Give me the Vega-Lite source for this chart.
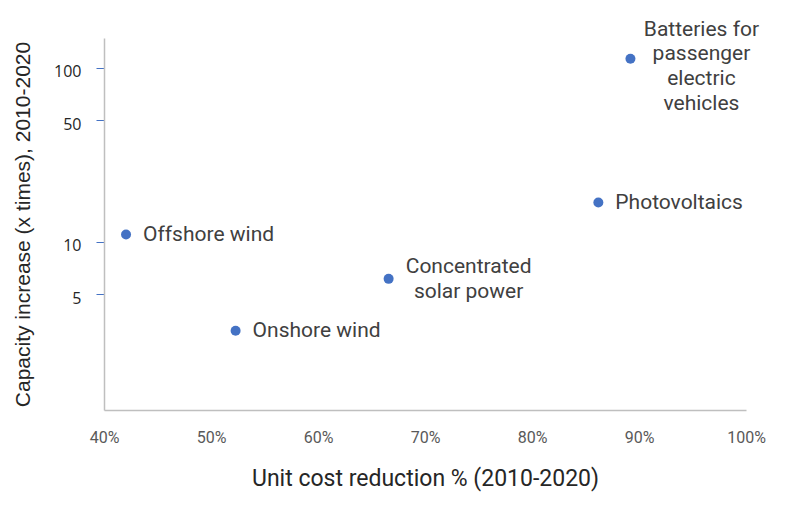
{
  "$schema": "https://vega.github.io/schema/vega-lite/v6.json",
  "autosize": "none",
  "width": 642,
  "height": 372,
  "padding": {"left": 104, "top": 38, "right": 44, "bottom": 98},
  "background": "white",
  "config": {"view": {"stroke": null}},
  "data": {"values": [
    {"tech": "Offshore wind", "label": "Offshore wind", "group": "single", "reduction": 0.4206, "increase": 11.0},
    {"tech": "Onshore wind", "label": "Onshore wind", "group": "single", "reduction": 0.523, "increase": 3.08},
    {"tech": "Concentrated solar power", "label": "Concentrated\nsolar power", "group": "csp", "reduction": 0.666, "increase": 6.12},
    {"tech": "Photovoltaics", "label": "Photovoltaics", "group": "single", "reduction": 0.862, "increase": 16.8},
    {"tech": "Batteries for passenger electric vehicles", "label": "Batteries for\npassenger\nelectric\nvehicles", "group": "bat", "reduction": 0.892, "increase": 112.6}
  ]},
  "encoding": {
    "x": {
      "field": "reduction", "type": "quantitative",
      "scale": {"domain": [0.4, 1.0], "nice": false, "zero": false},
      "axis": {
        "title": "Unit cost reduction % (2010-2020)",
        "format": ".0%", "values": [0.4, 0.5, 0.6, 0.7, 0.8, 0.9, 1.0],
        "grid": false, "ticks": false,
        "domainColor": "#bfbfbf", "domainWidth": 1.5,
        "labelFont": "Roboto", "labelFontSize": 16, "labelColor": "#595959",
        "labelPadding": 19, "labelFlush": false,
        "titleFont": "Roboto", "titleFontSize": 23, "titleFontWeight": "normal",
        "titleColor": "#262626", "titlePadding": 22
      }
    },
    "y": {
      "field": "increase", "type": "quantitative",
      "scale": {"type": "log", "domain": [1.08, 148], "nice": false},
      "axis": {
        "title": "Capacity increase (x times), 2010-2020",
        "values": [5, 10, 50, 100],
        "grid": false, "ticks": true, "tickSize": 8, "tickColor": "#4472C4",
        "domainColor": "#bfbfbf", "domainWidth": 1.5,
        "labelFont": "Open Sans", "labelFontSize": 16, "labelColor": "#262626",
        "labelPadding": 15, "labelOffset": 4,
        "titleFont": "Liberation Sans", "titleFontSize": 21, "titleFontWeight": "normal",
        "titleColor": "#262626", "titlePadding": 20
      }
    }
  },
  "layer": [
    {"mark": {"type": "point", "filled": true, "size": 100, "color": "#4472C4", "opacity": 1}},
    {
      "transform": [{"filter": "datum.group === 'single'"}],
      "mark": {"type": "text", "align": "left", "baseline": "middle", "dx": 17, "font": "Roboto", "fontSize": 21, "color": "#404040"},
      "encoding": {"text": {"field": "label"}}
    },
    {
      "transform": [{"filter": "datum.group === 'csp'"}],
      "mark": {"type": "text", "align": "center", "baseline": "middle", "dx": 80, "dy": -12, "font": "Roboto", "fontSize": 21, "color": "#404040", "lineBreak": "\n", "lineHeight": 25},
      "encoding": {"text": {"field": "label"}}
    },
    {
      "transform": [{"filter": "datum.group === 'bat'"}],
      "mark": {"type": "text", "align": "center", "baseline": "middle", "dx": 71, "dy": -29, "font": "Roboto", "fontSize": 21, "color": "#404040", "lineBreak": "\n", "lineHeight": 24.7},
      "encoding": {"text": {"field": "label"}}
    }
  ]
}
